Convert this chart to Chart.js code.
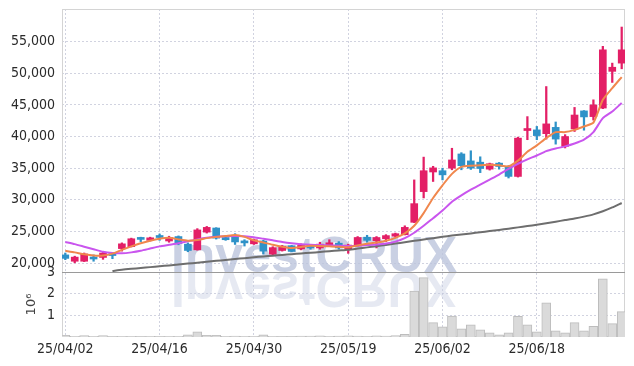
<!DOCTYPE html>
<html>
<head>
<meta charset="utf-8">
<script src="https://cdn.jsdelivr.net/npm/chart.js@4/dist/chart.umd.min.js"></script>
<style>
  html, body { margin: 0; padding: 0; background: #fff; }
  #wrap { width: 634px; height: 366px; position: relative; }
</style>
</head>
<body>
<div id="wrap"><canvas id="chart"></canvas></div>
<script>
// trading days (yy/mm/dd)
const dates = [
  '25/04/02','25/04/03','25/04/04','25/04/07','25/04/08','25/04/09','25/04/10','25/04/11','25/04/14','25/04/15',
  '25/04/16','25/04/17','25/04/18','25/04/21','25/04/22','25/04/23','25/04/24','25/04/25','25/04/28','25/04/29',
  '25/04/30','25/05/02','25/05/07','25/05/08','25/05/09','25/05/12','25/05/13','25/05/14','25/05/15','25/05/16',
  '25/05/19','25/05/20','25/05/21','25/05/22','25/05/23','25/05/26','25/05/27','25/05/28','25/05/29','25/05/30',
  '25/06/02','25/06/04','25/06/05','25/06/09','25/06/10','25/06/11','25/06/12','25/06/13','25/06/16','25/06/17',
  '25/06/18','25/06/19','25/06/20','25/06/23','25/06/24','25/06/25','25/06/26','25/06/27','25/06/30','25/07/01'
];

const opens = [
  21300, 20300, 20300, 20850, 20900, 21250, 22300, 22600, 23850, 23600,
  24150, 23500, 24200, 23000, 22100, 24900, 25550, 24050, 24400, 23300,
  23050, 23500, 21400, 22000, 22750, 22250, 22750, 22400, 22900, 23150,
  22250, 22750, 24100, 23550, 23850, 24250, 24500, 26450, 31300, 34400,
  34600, 35000, 37250, 36150, 35950, 34850, 35800, 35250, 33700, 40950,
  41050, 40450, 41450, 38450, 41200, 44050, 43150, 44500, 50300, 51600
];
const highs = [
  21600, 21100, 21600, 21300, 21700, 21700, 23200, 23950, 24100, 24100,
  24600, 24250, 24300, 23200, 25450, 25800, 25600, 24200, 24650, 23700,
  23800, 23600, 22600, 22800, 22800, 23050, 22900, 23300, 23700, 23400,
  23000, 24200, 24400, 24200, 24500, 24750, 25900, 33150, 36750, 35300,
  35000, 38150, 37450, 37750, 36800, 35800, 35900, 35400, 39900, 43150,
  41600, 47900, 42300, 40300, 44600, 44100, 45800, 54250, 51600, 57300
];
const lows = [
  20550, 20050, 20250, 20300, 20600, 20700, 21900, 22550, 23400, 23500,
  23600, 23300, 22900, 21800, 22050, 24750, 23800, 23600, 22950, 22700,
  22950, 21450, 21250, 21900, 21800, 22100, 22200, 22200, 22650, 22200,
  21550, 22700, 23300, 22400, 23400, 24150, 24450, 26400, 30300, 32900,
  33150, 34750, 34750, 34800, 34300, 34700, 34850, 33450, 33600, 39500,
  39500, 39600, 38800, 38200, 40800, 41000, 42600, 44400, 48550, 50700
];
const closes = [
  20750, 20950, 21450, 20650, 21600, 21200, 23050, 23850, 23750, 24000,
  24050, 24050, 23100, 22000, 25250, 25650, 23950, 23700, 23350, 23200,
  23700, 21900, 22450, 22650, 21850, 22800, 22400, 23000, 23050, 22400,
  22850, 24050, 23600, 24050, 24350, 24650, 25650, 29400, 34600, 35050,
  33950, 36300, 35400, 35000, 34950, 35700, 35270, 33700, 39750, 41200,
  40150, 42000, 39600, 40000, 43400, 43100, 45000, 53700, 50950, 53700
];

// volume, millions of shares
const volumes = [
  0.08, 0.03, 0.07, 0.03, 0.07, 0.02, 0.03, 0.03, 0.02, 0.03,
  0.02, 0.03, 0.03, 0.10, 0.24, 0.08, 0.08, 0.03, 0.04, 0.03,
  0.03, 0.10, 0.03, 0.02, 0.02, 0.04, 0.04, 0.05, 0.03, 0.04,
  0.05, 0.04, 0.03, 0.05, 0.04, 0.06, 0.12, 2.12, 2.74, 0.66,
  0.47, 0.96, 0.38, 0.56, 0.33, 0.19, 0.10, 0.19, 0.95, 0.56,
  0.24, 1.58, 0.29, 0.19, 0.66, 0.29, 0.49, 2.69, 0.62, 1.17
];

// moving averages as drawn
const maShort = [
  21950, 21700, 21400, 21200, 21200, 21500, 22100, 22650, 23150, 23550,
  23850, 24000, 23750, 23550, 23650, 23950, 24150, 24300, 24450, 24150,
  23600, 23250, 22900, 22600, 22400, 22550, 22750, 22700, 22650, 22600,
  22500, 22800, 23050, 23250, 23550, 24000, 24700, 25900, 27900, 30300,
  32300, 34100, 35200, 35400, 35450, 35550, 35450, 35300, 36200, 37600,
  38600, 39750, 40700, 40700, 41050, 41600, 42200, 45800, 47650, 49400
];
const maMid = [
  23350, 23000, 22600, 22200, 21800, 21600, 21550, 21700, 21950, 22300,
  22650, 22900, 23150, 23450, 23750, 24000, 24150, 24250, 24300, 24250,
  24100, 23850, 23600, 23350, 23150, 23000, 22900, 22850, 22800, 22750,
  22700, 22750, 22850, 22950, 23100, 23400, 23950, 24800, 25900, 27100,
  28300, 29700, 30700, 31600, 32400, 33200, 34000, 34900, 35700, 36400,
  37000, 37700, 38100, 38450, 38900, 39500, 40700, 42900, 43950, 45300
];
const maLong = [
  null, null, null, null, null, 18750, 18950, 19100, 19230, 19370,
  19500, 19640, 19780, 19930, 20070, 20210, 20360, 20500, 20640, 20790,
  20930, 21050, 21170, 21290, 21410, 21530, 21640, 21760, 21880, 22000,
  22120, 22300, 22490, 22680, 22880, 23090, 23300, 23520, 23740, 23950,
  24170, 24350, 24520, 24700, 24880, 25060, 25250, 25450, 25650, 25850,
  26060, 26300, 26550, 26800, 27050, 27350, 27700, 28200, 28800, 29500
];

const priceTicks = [20000, 25000, 30000, 35000, 40000, 45000, 50000, 55000];
const volumeTicks = [1, 2, 3];
const dateTicks = [0, 10, 20, 30, 40, 50];

const UP = '#e31f66';
const DOWN = '#2f92c8';
const GRID = 'rgba(185,188,208,0.65)';
const FONT = "'Liberation Sans Narrow', 'DejaVu Sans Condensed', 'Liberation Sans', sans-serif";

const candleColor = ctx => closes[ctx.dataIndex] >= opens[ctx.dataIndex] ? UP : DOWN;
const xy = arr => arr.map((v, i) => ({ x: i, y: v }));

const watermark = {
  id: 'watermark',
  beforeDatasetsDraw(chart) {
    const { ctx, chartArea: a } = chart;
    const sep = chart.scales.y.bottom;
    ctx.save();
    ctx.beginPath();
    ctx.rect(a.left, a.top, a.right - a.left, a.bottom - a.top);
    ctx.clip();
    ctx.font = 'bold 50px "Liberation Sans", Arial, sans-serif';
    ctx.textAlign = 'center';
    ctx.textBaseline = 'alphabetic';
    ctx.fillStyle = 'rgba(188,196,220,0.8)';
    ctx.fillText('InvestCRUX', 314, sep);
    ctx.translate(0, sep * 2);
    ctx.scale(1, -1);
    ctx.fillStyle = 'rgba(200,206,226,0.45)';
    ctx.fillText('InvestCRUX', 314, sep);
    ctx.restore();

    // panel frame and separator
    ctx.save();
    ctx.strokeStyle = '#d4d4d4';
    ctx.lineWidth = 1;
    ctx.strokeRect(a.left + 0.5, a.top + 0.5, a.right - a.left - 1, a.bottom - a.top - 1);
    ctx.strokeStyle = '#9a9a9a';
    ctx.beginPath();
    ctx.moveTo(a.left, Math.round(sep) + 0.5);
    ctx.lineTo(a.right, Math.round(sep) + 0.5);
    ctx.stroke();
    ctx.restore();
  }
};

const fitLeft = scale => {
  scale.width = 62;
  scale.paddingTop = 0;
  scale.paddingBottom = 0;
};

new Chart(document.getElementById('chart'), {
  type: 'bar',
  data: {
    datasets: [
      {
        type: 'line', data: xy(maShort), yAxisID: 'y',
        borderColor: '#f0874d', borderWidth: 2, pointRadius: 0, tension: 0.2, order: 1
      },
      {
        type: 'line', data: xy(maMid), yAxisID: 'y',
        borderColor: '#c955ee', borderWidth: 2, pointRadius: 0, tension: 0.2, order: 1
      },
      {
        type: 'line', data: xy(maLong), yAxisID: 'y',
        borderColor: '#6e6e6e', borderWidth: 2, pointRadius: 0, tension: 0.2, order: 1
      },
      {
        data: dates.map((d, i) => ({ x: i, y: [opens[i], closes[i]] })), yAxisID: 'y',
        backgroundColor: candleColor, barThickness: 7, minBarLength: 2, grouped: false, order: 2
      },
      {
        data: dates.map((d, i) => ({ x: i, y: [lows[i], highs[i]] })), yAxisID: 'y',
        backgroundColor: candleColor, barThickness: 1.6, grouped: false, order: 3
      },
      {
        data: xy(volumes), yAxisID: 'yv',
        backgroundColor: '#dadada', borderColor: '#bdbdbd', borderWidth: 1,
        barThickness: 9, grouped: false, order: 4
      }
    ]
  },
  options: {
    responsive: true,
    maintainAspectRatio: false,
    animation: false,
    layout: { padding: { top: 9, right: 9, left: 0, bottom: 0 } },
    plugins: { legend: { display: false }, tooltip: { enabled: false } },
    scales: {
      x: {
        type: 'linear', min: -0.35, max: 59.35, offset: false,
        afterBuildTicks: axis => { axis.ticks = dateTicks.map(v => ({ value: v })); },
        afterFit: scale => { scale.height = 29; scale.paddingLeft = 0; scale.paddingRight = 0; },
        ticks: {
          callback: v => dates[v], maxRotation: 0, autoSkip: false, padding: 4,
          color: '#2a2a2a', font: { family: FONT, size: 14 }
        },
        grid: { color: GRID, drawTicks: false, offset: false },
        border: { display: false, dash: [2, 2] }
      },
      yv: {
        position: 'left', stack: 'panels', stackWeight: 65,
        min: 0, max: 3,
        afterBuildTicks: axis => { axis.ticks = volumeTicks.map(v => ({ value: v })); },
        afterFit: fitLeft,
        ticks: { padding: 7, autoSkip: false, color: '#2a2a2a', font: { family: FONT, size: 14 } },
        grid: { color: GRID, drawTicks: false },
        border: { display: false, dash: [2, 2] },
        title: {
          display: true, text: '10\u2076', color: '#444',
          font: { family: "'DejaVu Sans', sans-serif", size: 13 },
          padding: { top: 24, bottom: 0 }
        }
      },
      y: {
        position: 'left', stack: 'panels', stackWeight: 263,
        min: 18600, max: 60150,
        afterBuildTicks: axis => { axis.ticks = priceTicks.map(v => ({ value: v })); },
        afterFit: fitLeft,
        ticks: {
          padding: 7, autoSkip: false, color: '#2a2a2a', font: { family: FONT, size: 14 },
          callback: v => v.toLocaleString('en-US')
        },
        grid: { color: GRID, drawTicks: false },
        border: { display: false, dash: [2, 2] }
      }
    }
  },
  plugins: [watermark]
});
</script>
</body>
</html>
